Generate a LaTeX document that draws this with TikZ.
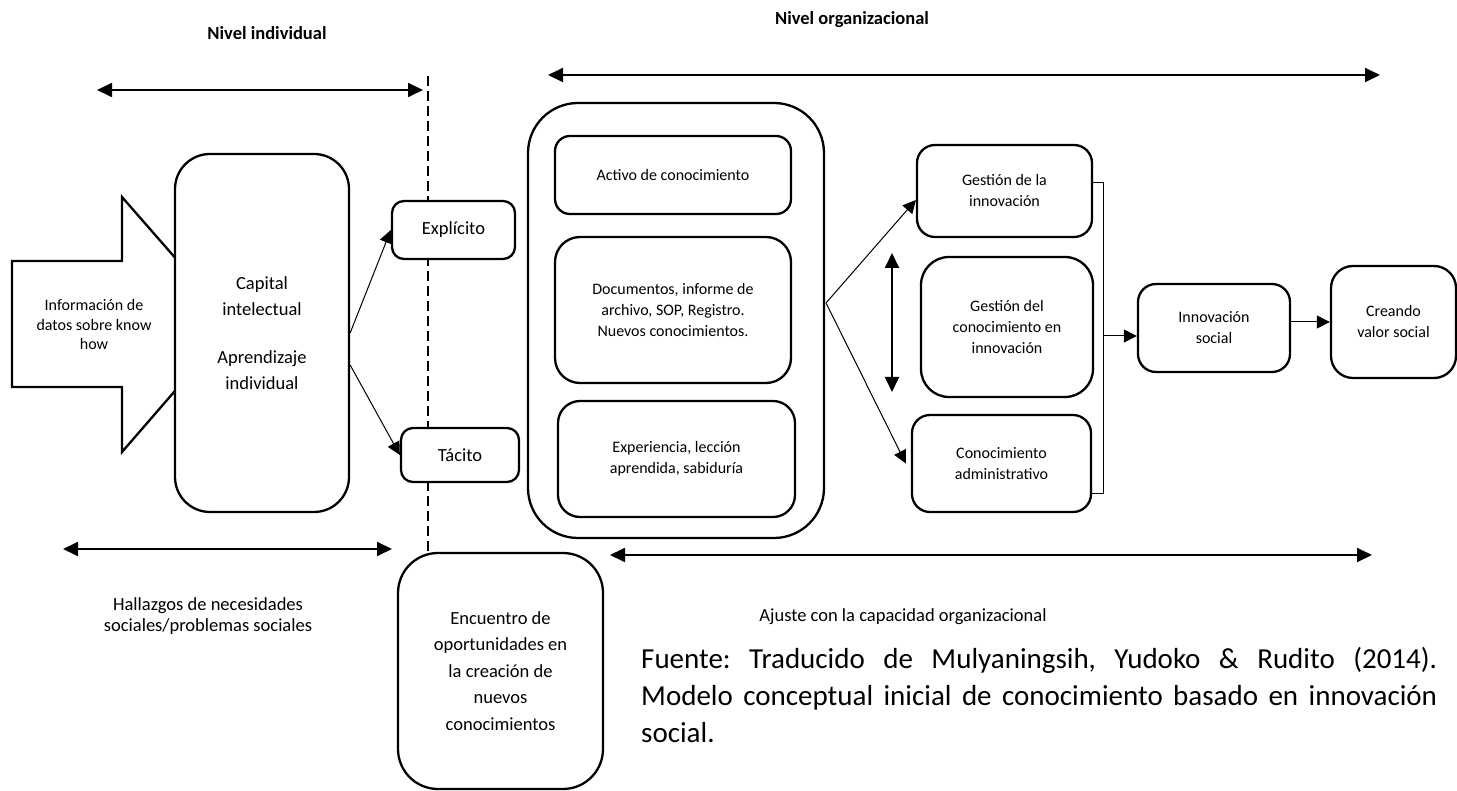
\documentclass[tikz,border=0pt]{standalone}
\usepackage{fontspec}
\setmainfont{Carlito}
\usetikzlibrary{arrows.meta}
\frenchspacing

\begin{document}
\begin{tikzpicture}[
  x=1pt, y=-1pt,
  box/.style={
    draw, line width=2.3pt, fill=white, align=center,
    inner sep=0pt, rounded corners=#1,
  },
  box/.default=14pt,
  small/.style={font=\fontsize{16}{21}\selectfont},
  medium/.style={font=\fontsize{18.5}{26}\selectfont},
  link/.style={-{Triangle[length=13pt,width=13pt]}, line width=1pt},
  span/.style={
    {Triangle[length=15pt,width=14pt]}-{Triangle[length=15pt,width=14pt]},
    line width=1.8pt
  },
  divider/.style={line width=1.8pt, dash pattern=on 10pt off 5pt},
  ]
  \useasboundingbox (0,0) rectangle (1457,791);

  \node[font=\bfseries\fontsize{18.5}{22}\selectfont] (nivind) at (267,33) {Nivel individual};
  \node[font=\bfseries\fontsize{18.5}{22}\selectfont] (nivorg) at (852,20) {Nivel organizacional};

  \coordinate (dtop) at (428,76);
  \coordinate (dbot) at (428,552);
  \draw[divider] (dtop) -- (dbot);

  \draw[line width=2.3pt, fill=white]
    (12,261) -- (122,261) -- (122,197) -- (233,324)
    -- (122,452) -- (122,387) -- (12,387) -- cycle;
  \node[font=\fontsize{16}{19.5}\selectfont, align=center] (info) at (94,325)
    {Información de\\datos sobre know\\how};

  \node[box=35pt, medium, minimum width=174pt, minimum height=358pt] (capital) at (262,333)
    {Capital\\intelectual\\[22pt]Aprendizaje\\individual};
  \node[box=12pt, medium, minimum width=123pt, minimum height=58pt] (explicito) at (453.5,230) {Explícito};
  \node[box=12pt, medium, minimum width=118pt, minimum height=54pt] (tacito) at (460,455) {Tácito};

  \node[box=50pt, minimum width=296pt, minimum height=435pt] (org) at (676,320.5) {};
  \node[box=15pt, small, minimum width=236pt, minimum height=78pt] (activo) at (673,175)
    {Activo de conocimiento};
  \node[box=25pt, small, minimum width=236pt, minimum height=146pt] (docs) at (673,310)
    {Documentos, informe de\\archivo, SOP, Registro.\\Nuevos conocimientos.};
  \node[box=22pt, small, minimum width=237pt, minimum height=116pt] (experiencia) at (676.5,459)
    {Experiencia, lección\\aprendida, sabiduría};

  \node[box=18pt, small, minimum width=175pt, minimum height=92pt] (gestinn) at (1004.5,191)
    {Gestión de la\\innovación};
  \node[box=28pt, small, minimum width=172pt, minimum height=140pt] (gestcon) at (1007,327)
    {Gestión del\\conocimiento en\\innovación};
  \node[box=18pt, small, minimum width=179pt, minimum height=97pt] (admin) at (1001.5,463.5)
    {Conocimiento\\administrativo};
  \node[box=18pt, small, minimum width=152pt, minimum height=88pt] (innov) at (1214,328)
    {Innovación\\social};
  \node[box=22pt, small, minimum width=125pt, minimum height=112pt] (creando) at (1393.5,322)
    {Creando\\valor social};

  \node[box=40pt, font=\fontsize{18.5}{26.5}\selectfont, minimum width=205pt, minimum height=236pt]
    (encuentro) at (500.5,671)
    {Encuentro de\\oportunidades en\\la creación de\\nuevos\\conocimientos};

  \draw[link] (capital.east) -- (explicito.west);
  \draw[link] ([yshift=-32pt]capital.east) -- (tacito.west);

  \coordinate (fan) at (826,303);
  \draw[link] (fan) -- ([yshift=-9pt]gestinn.west);
  \draw[link] (fan) -- ([xshift=-5pt]admin.west);

  \coordinate (vtop) at (892,253);
  \coordinate (vbot) at (892,392);
  \draw[span] (vtop) -- (vbot);

  \coordinate (brktop) at (1103,183);
  \coordinate (brkbot) at (1103,493);
  \coordinate (brk) at (1103,336);
  \draw[line width=1pt] (gestinn.east |- brktop) -- (brktop) -- (brkbot) -- (admin.east |- brkbot);
  \draw[link] (brk) -- (innov.west |- brk);
  \draw[link] (innov.east |- creando.west) -- (creando.west);

  \coordinate (indl) at (97,90);
  \coordinate (indr) at (423,90);
  \draw[span] (indl) -- (indr);
  \coordinate (orgl) at (548,75);
  \coordinate (orgr) at (1380,75);
  \draw[span] (orgl) -- (orgr);
  \coordinate (hall) at (63,549);
  \coordinate (halr) at (392,549);
  \draw[span] (hall) -- (halr);
  \coordinate (ajul) at (610,555);
  \coordinate (ajur) at (1372,555);
  \draw[span] (ajul) -- (ajur);

  \node[font=\fontsize{18.5}{21.5}\selectfont, align=center] (hallazgos) at (208,616)
    {Hallazgos de necesidades\\sociales/problemas sociales};
  \node[medium] (ajuste) at (903,617) {Ajuste con la capacidad organizacional};

  \node[anchor=base west, inner sep=0pt, font=\fontsize{29}{37}\selectfont] (fuente) at (641,668)
    {\begin{tabular}[t]{@{}l@{}}
      \makebox[796pt][s]{Fuente: Traducido de Mulyaningsih, Yudoko \& Rudito (2014).}\\
      \makebox[796pt][s]{Modelo conceptual inicial de conocimiento basado en innovación}\\
      social.
    \end{tabular}};
\end{tikzpicture}
\end{document}
